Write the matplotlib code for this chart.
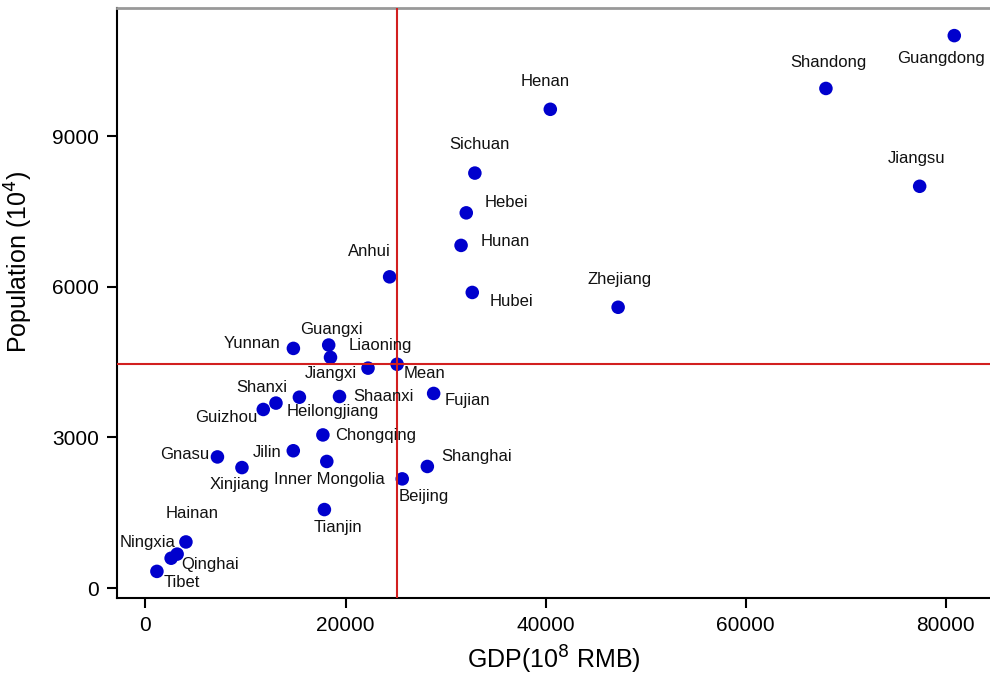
import matplotlib.pyplot as plt

plt.rcParams['font.family'] = ['Liberation Sans', 'DejaVu Sans']

# data
provinces = ['Guangdong', 'Shandong', 'Jiangsu', 'Henan', 'Sichuan', 'Hebei', 'Hunan',
             'Hubei', 'Zhejiang', 'Anhui', 'Yunnan', 'Guangxi', 'Jiangxi', 'Liaoning',
             'Fujian', 'Shaanxi', 'Shanxi', 'Heilongjiang', 'Guizhou', 'Chongqing',
             'Jilin', 'Gnasu', 'Xinjiang', 'Inner Mongolia', 'Shanghai', 'Beijing',
             'Tianjin', 'Hainan', 'Ningxia', 'Qinghai', 'Tibet']
gdp = [80850, 68020, 77390, 40470, 32930, 32070, 31550,
       32670, 47250, 24410, 14790, 18320, 18500, 22250,
       28810, 19400, 13050, 15390, 11780, 17740,
       14780, 7200, 9650, 18130, 28180, 25670,
       17890, 4050, 3170, 2570, 1150]
population = [10999, 9947, 7999, 9532, 8262, 7470, 6822,
              5885, 5590, 6196, 4771, 4838, 4592, 4378,
              3874, 3813, 3682, 3799, 3555, 3048,
              2733, 2610, 2398, 2520, 2420, 2173,
              1562, 917, 675, 593, 331]
mean_gdp = 25160
mean_pop = 4455

# label offsets from the point, in pixels (layout only)
label_offset = {
    'Guangdong': (-13, -23), 'Shandong': (2, 26), 'Jiangsu': (-3, 28),
    'Henan': (-5, 28), 'Sichuan': (5, 29), 'Hebei': (40, 10), 'Hunan': (44, 4),
    'Hubei': (39, -9), 'Zhejiang': (1, 28), 'Anhui': (-20, 25),
    'Yunnan': (-41, 5), 'Guangxi': (3, 16), 'Jiangxi': (0, -16),
    'Liaoning': (12, 23), 'Fujian': (34, -7), 'Shaanxi': (44, 0),
    'Shanxi': (-14, 16), 'Heilongjiang': (33, -14), 'Guizhou': (-37, -8),
    'Chongqing': (53, -1), 'Jilin': (-26, -2), 'Gnasu': (-33, 2),
    'Xinjiang': (-3, -17), 'Inner Mongolia': (3, -18), 'Shanghai': (49, 10),
    'Beijing': (22, -18), 'Tianjin': (14, -18), 'Hainan': (6, 28),
    'Ningxia': (-30, 12), 'Qinghai': (39, -6), 'Tibet': (25, -11),
    'Mean': (27, -9),
}

fig = plt.figure(figsize=(9.9, 6.74), dpi=100)
ax = fig.add_axes([117/990, 76/674, 873/990, 590/674])

dot = '#0000CD'
ax.scatter(gdp + [mean_gdp], population + [mean_pop], s=95, c=dot,
           edgecolors='none', zorder=3)

# mean lines
ax.axvline(mean_gdp, color='#D21F1F', lw=1.5, zorder=4)
ax.axhline(mean_pop, color='#D21F1F', lw=1.5, zorder=4)

for name, x, y in zip(provinces + ['Mean'], gdp + [mean_gdp], population + [mean_pop]):
    dx, dy = label_offset[name]
    ax.annotate(name, (x, y), xytext=(dx, dy), textcoords='offset pixels',
                ha='center', va='center', fontsize=12, color='#111111', zorder=5)

ax.set_xlim(-2840, 84420)
ax.set_ylim(-199, 11549)
ax.set_xticks([0, 20000, 40000, 60000, 80000])
ax.set_yticks([0, 3000, 6000, 9000])
ax.tick_params(axis='both', direction='out', length=7, width=1.5, labelsize=15,
               color='black', pad=6)

ax.spines['right'].set_visible(False)
ax.spines['top'].set_color('#999999')
ax.spines['top'].set_linewidth(2)
ax.spines['left'].set_linewidth(1.5)
ax.spines['bottom'].set_linewidth(1.5)

ax.set_xlabel('GDP(10$^{8}$ RMB)', fontsize=18)
ax.set_ylabel('Population (10$^{4}$)', fontsize=18)
ax.xaxis.set_label_coords(0.5, -0.077)
ax.yaxis.set_label_coords(-0.094, 0.57)

plt.savefig('out.png', dpi=100)
plt.close('all')
